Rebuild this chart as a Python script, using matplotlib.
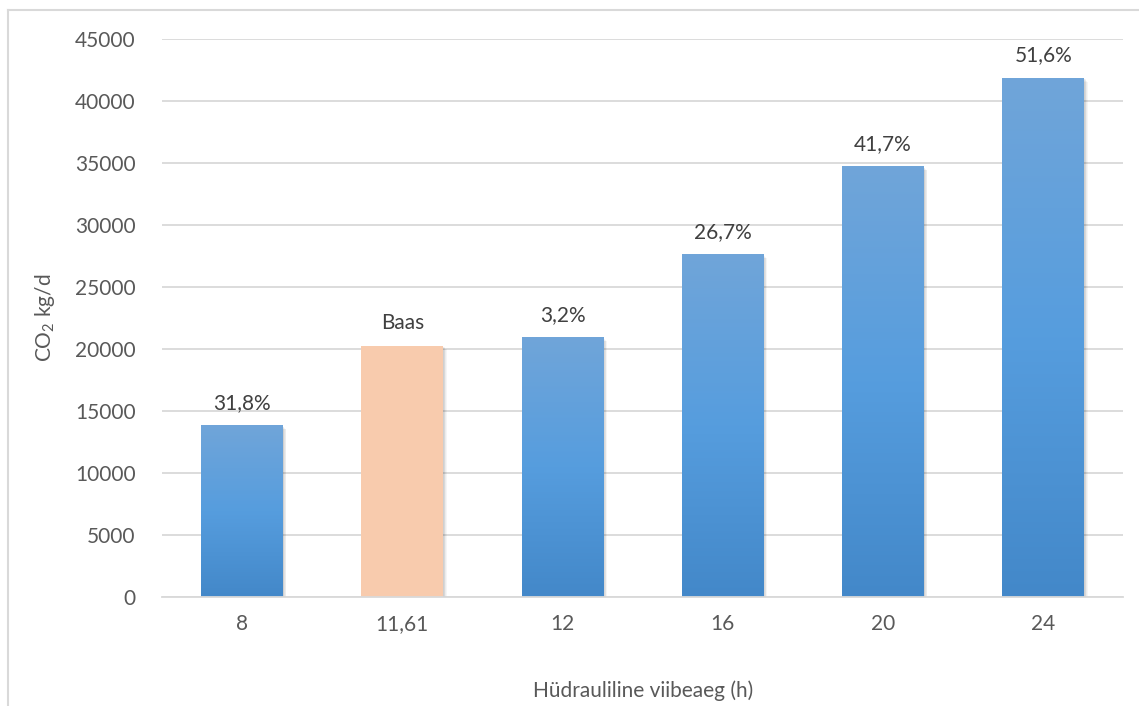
import matplotlib
matplotlib.use('Agg')
import matplotlib.pyplot as plt
import matplotlib.patheffects as pe
from matplotlib.lines import Line2D
import numpy as np

# Data
hours = ['8', '11,61', '12', '16', '20', '24']
co2_kg_per_day = [13800, 20250, 20900, 27580, 34680, 41850]
bar_labels = ['31,8%', 'Baas', '3,2%', '26,7%', '41,7%', '51,6%']
baseline_index = 1

plt.rcParams['font.family'] = ['Lato', 'DejaVu Sans']
plt.rcParams['mathtext.fontset'] = 'custom'
plt.rcParams['mathtext.rm'] = 'Lato'

text_color = '#595959'
grid_color = '#d9d9d9'
peach = '#f8cbad'

fig = plt.figure(figsize=(11.39, 7.06), dpi=100)
ax = fig.add_axes([0.1422, 0.1544, 0.8441, 0.7904])

x = np.arange(len(hours))
bar_width = 0.51

# soft drop shadow made from a few stacked offset copies
shadow = [pe.SimplePatchShadow(offset=(d, -d), shadow_rgbFace='black', alpha=0.04)
          for d in (0.5, 1.0, 1.5, 2.0, 2.5)] + [pe.Normal()]

bars = ax.bar(x, co2_kg_per_day, width=bar_width, color='#5b9bd5',
              linewidth=0, zorder=3)
for i, b in enumerate(bars):
    b.set_path_effects(shadow)
    if i == baseline_index:
        b.set_facecolor(peach)
        continue
    # vertical blue gradient: light at the top, deeper at the bottom
    top = np.array([112, 165, 217]) / 255
    mid = np.array([86, 157, 222]) / 255
    bot = np.array([67, 136, 201]) / 255
    t = np.linspace(0, 1, 256)[:, None]
    grad = np.where(t < 0.5, top + (mid - top) * (t / 0.5),
                    mid + (bot - mid) * ((t - 0.5) / 0.5))
    grad = grad[:, None, :]
    x0 = b.get_x()
    ax.imshow(grad, extent=[x0, x0 + b.get_width(), 0, b.get_height()],
              aspect='auto', zorder=4, interpolation='bilinear')

for xi, val, lab in zip(x, co2_kg_per_day, bar_labels):
    ax.annotate(lab, (xi, val), xytext=(0, 9), textcoords='offset points',
                ha='center', va='bottom', fontsize=15, color='#404040', zorder=5)

ax.set_xlim(-0.5, len(hours) - 0.5)
ax.set_ylim(0, 45000)
ax.set_yticks(np.arange(0, 45001, 5000))
ax.set_xticks(x)
ax.set_xticklabels(hours)
ax.yaxis.grid(True, color=grid_color, linewidth=1.3, zorder=0)
ax.set_axisbelow(True)

for side in ('top', 'right', 'left'):
    ax.spines[side].set_visible(False)
ax.spines['bottom'].set_color(grid_color)
ax.spines['bottom'].set_linewidth(1.3)
ax.spines['bottom'].set_zorder(6)

ax.tick_params(axis='both', length=0, labelsize=15, colors=text_color)
ax.tick_params(axis='y', pad=19)
ax.tick_params(axis='x', pad=12)

ax.set_ylabel(r'CO$_\mathrm{2}$ kg/d', fontsize=15, color=text_color, labelpad=13)
ax.set_xlabel('Hüdrauliline viibeaeg (h)', fontsize=15, color=text_color, labelpad=34)

# light chart-area frame along the left and top edges
fig.add_artist(Line2D([0.0066, 0.0066], [0, 0.986], color=grid_color, linewidth=1.5,
                      transform=fig.transFigure))
fig.add_artist(Line2D([0.0066, 1], [0.986, 0.986], color=grid_color, linewidth=1.5,
                      transform=fig.transFigure))

fig.savefig('out.png', dpi=100)
